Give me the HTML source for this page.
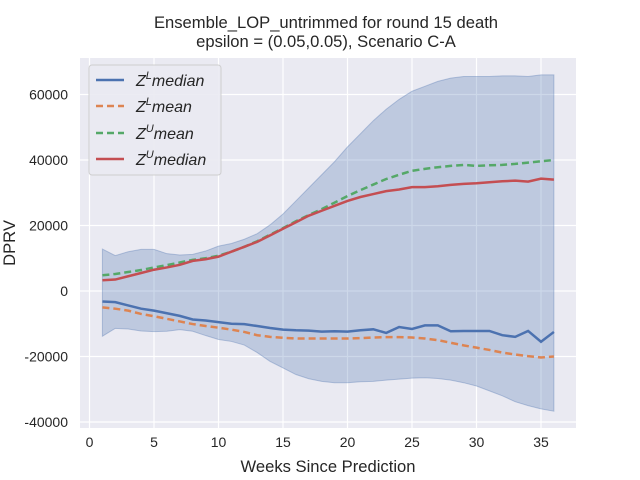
<!DOCTYPE html>
<html><head><meta charset="utf-8"><style>
body{margin:0;background:#fff;}
svg{display:block;font-family:"Liberation Sans",sans-serif;}
</style></head><body>
<svg id="chart" width="640" height="480" xmlns="http://www.w3.org/2000/svg">
<text x="326" y="28" font-size="16.6" text-anchor="middle" fill="#262626">Ensemble_LOP_untrimmed for round 15 death</text>
<text x="326" y="47" font-size="16.6" text-anchor="middle" fill="#262626">epsilon = (0.05,0.05), Scenario C-A</text>
<rect x="80" y="58" width="496" height="370" fill="#eaeaf2"/>
<g id="grid"></g><g id="band"></g><g id="lines"></g><g id="ticks"></g>
<text x="328" y="472" font-size="16.6" text-anchor="middle" fill="#262626">Weeks Since Prediction</text>
<text transform="translate(15,243) rotate(-90)" font-size="16.6" text-anchor="middle" fill="#262626">DPRV</text>
<g>
<rect x="89" y="65" width="132" height="110" rx="3" fill="#eaeaf2" stroke="#cccccc" opacity="0.9"/>
<line x1="96" y1="80" x2="124" y2="80" stroke="#4c72b0" stroke-width="2.5"/>
<text x="136" y="86" font-size="16" font-style="italic" fill="#262626">Z<tspan font-size="11" dy="-7">L</tspan><tspan dy="7">median</tspan></text>
<line x1="96" y1="106" x2="124" y2="106" stroke="#dd8452" stroke-width="2.5" stroke-dasharray="7,4"/>
<text x="136" y="112" font-size="16" font-style="italic" fill="#262626">Z<tspan font-size="11" dy="-7">L</tspan><tspan dy="7">mean</tspan></text>
<line x1="96" y1="133" x2="124" y2="133" stroke="#55a868" stroke-width="2.5" stroke-dasharray="7,4"/>
<text x="136" y="139" font-size="16" font-style="italic" fill="#262626">Z<tspan font-size="11" dy="-7">U</tspan><tspan dy="7">mean</tspan></text>
<line x1="96" y1="159" x2="124" y2="159" stroke="#c44e52" stroke-width="2.5"/>
<text x="136" y="165" font-size="16" font-style="italic" fill="#262626">Z<tspan font-size="11" dy="-7">U</tspan><tspan dy="7">median</tspan></text>
</g>
</svg>
<script>
const weeks=[1,2,3,4,5,6,7,8,9,10,11,12,13,14,15,16,17,18,19,20,21,22,23,24,25,26,27,28,29,30,31,32,33,34,35,36];
const zuMedian=[3300,3500,4500,5500,6500,7200,8000,9200,9700,10500,12000,13500,15000,17000,19000,21000,23000,24500,26000,27500,28700,29600,30500,31000,31700,31700,32000,32400,32700,32900,33200,33500,33700,33400,34300,34000];
const zuMean=[4800,5200,5800,6400,7200,7900,8700,9500,10000,10800,12000,13500,15200,17200,19200,21300,23200,25000,27000,29000,30800,32500,34200,35500,36700,37300,37800,38200,38500,38200,38400,38500,38800,39200,39600,40000];
const zlMedian=[-3200,-3400,-4400,-5400,-6000,-6800,-7600,-8700,-9000,-9500,-10000,-10100,-10700,-11300,-11800,-12000,-12100,-12400,-12300,-12400,-12000,-11700,-12800,-11000,-11600,-10500,-10500,-12300,-12200,-12200,-12200,-13500,-14000,-12200,-15500,-12500];
const zlMean=[-5000,-5400,-6000,-7000,-7700,-8500,-9300,-10100,-10700,-11200,-11800,-12500,-13500,-14000,-14300,-14500,-14500,-14500,-14500,-14500,-14400,-14200,-14100,-14100,-14200,-14500,-15000,-15800,-16600,-17300,-18000,-18800,-19400,-19900,-20300,-20000];
const bandUpper=[12800,10800,12000,12700,12700,11400,11000,11200,12200,13700,14500,15800,17500,20200,23500,27500,31500,35500,39500,44000,48000,52000,55500,58500,61000,62500,64000,65000,65500,65500,65500,65700,65700,65500,66000,66000];
const bandLower=[-13800,-11400,-11600,-12200,-12400,-12300,-11800,-12300,-13600,-14800,-15400,-16500,-18800,-21500,-23500,-25500,-26800,-27600,-28000,-28000,-27700,-27600,-27200,-26900,-26600,-26500,-26700,-27200,-28000,-29000,-30500,-32000,-33800,-35000,-36000,-36700];
const xTicks=[0,5,10,15,20,25,30,35];
const yTicks=[-40000,-20000,0,20000,40000,60000];
const NS='http://www.w3.org/2000/svg';
const X=v=>89.5+v*12.9;
const Y=v=>291-v*65.5/20000;
function mk(tag,attrs,parent){const e=document.createElementNS(NS,tag);for(const k in attrs)e.setAttribute(k,attrs[k]);document.getElementById(parent).appendChild(e);return e;}
xTicks.forEach(t=>{
 const l=mk('line',{x1:X(t),x2:X(t),y1:58,y2:428,stroke:'#fff','stroke-width':1.2},'grid');
 
 
 const tx=mk('text',{x:X(t),y:447,'font-size':14,'text-anchor':'middle',fill:'#262626'},'ticks');
 tx.textContent=t;
 
 
});
yTicks.forEach(t=>{
 const l=mk('line',{x1:80,x2:576,y1:Y(t),y2:Y(t),stroke:'#fff','stroke-width':1.2},'grid');
 
 
 const tx=mk('text',{x:68,y:Y(t)+5,'font-size':14,'text-anchor':'end',fill:'#262626'},'ticks');
 tx.textContent=t;
 
 
});
let d='M'+weeks.map((w,i)=>X(w)+','+Y(bandUpper[i])).join('L');
for(let i=weeks.length-1;i>=0;i--)d+='L'+X(weeks[i])+','+Y(bandLower[i]);
const b=mk('path',{d:d+'Z',fill:'#4c72b0','fill-opacity':0.28,stroke:'#4c72b0','stroke-opacity':0.35},'band');


[[zlMedian,'#4c72b0',null,'zl-median-line'],[zlMean,'#dd8452','7,4','zl-mean-line'],[zuMean,'#55a868','7,4','zu-mean-line'],[zuMedian,'#c44e52',null,'zu-median-line']].forEach(([s,c,da,n])=>{
 const p=mk('polyline',{points:weeks.map((w,i)=>X(w)+','+Y(s[i])).join(' '),fill:'none',stroke:c,'stroke-width':2.5},'lines');
 if(da)p.setAttribute('stroke-dasharray',da);
 
 
});
</script>
</body></html>
